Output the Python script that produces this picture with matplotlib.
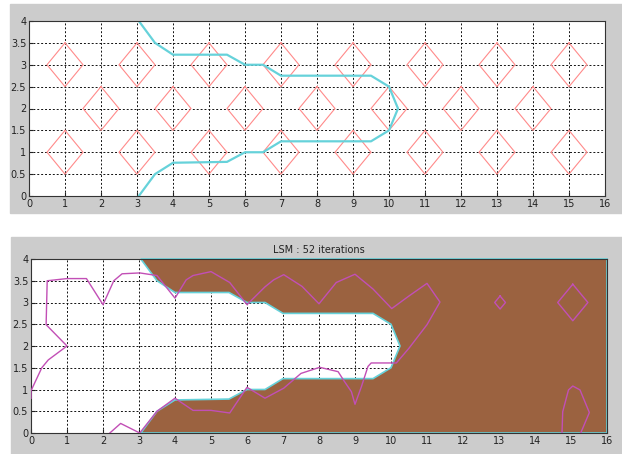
import numpy as np
import matplotlib.pyplot as plt
from matplotlib.patches import Rectangle, Polygon

# centres des obstacles (losanges)
obs_x = [1, 3, 5, 7, 9, 11, 13, 15, 2, 4, 6, 8, 10, 12, 14, 1, 3, 5, 7, 9, 11, 13, 15]
obs_y = [3, 3, 3, 3, 3, 3, 3, 3, 2, 2, 2, 2, 2, 2, 2, 1, 1, 1, 1, 1, 1, 1, 1]
R_OBS = 0.5

# frontiere du canal (courbe cyan)
canal_x = [3.05, 3.5, 4, 5.5, 6, 6.5, 7, 9.5, 10, 10.25, 10, 9.5, 7, 6.5, 6, 5.5, 4, 3.5, 3.05]
canal_y = [4, 3.5, 3.23, 3.23, 3, 3, 2.75, 2.75, 2.5, 2, 1.5, 1.25, 1.25, 1, 1, 0.78, 0.76, 0.5, 0]

# contours level-set (magenta)
ls_x = [0, 0, 0.3, 0.48, 1, 0.42, 0.45, 1, 1.54, 2, 2.3, 2.53, 3.02, 3.5, 4, 4.31, 4.5, 5,
        5.52, 6, 6.5, 6.74, 7.02, 7.53, 8, 8.48, 9, 9.5, 10.02, 10.5, 11, 11.36, 11, 10.5,
        10.15, 9.45, 9.36, 9.18, 9, 8.9, 8.71, 8.53, 8.02, 7.5, 7.02, 6.5, 6, 5.52, 5, 4.5,
        4, 3.5, 3.02, 2.49, 2.19]
ls_y = [0.80, 0.97, 1.5, 1.68, 2, 2.49, 3.5, 3.55, 3.55, 2.95, 3.5, 3.66, 3.68, 3.62, 3.1,
        3.52, 3.62, 3.71, 3.46, 2.95, 3.36, 3.52, 3.64, 3.37, 2.97, 3.46, 3.65, 3.31, 2.86,
        3.15, 3.44, 3.01, 2.49, 1.95, 1.61, 1.61, 1.53, 1.07, 0.66, 0.95, 1.18, 1.41, 1.51,
        1.37, 1.03, 0.80, 1.05, 0.46, 0.52, 0.52, 0.80, 0.5, 0, 0.22, 0]
petit_x = [13.03, 13.18, 13.03, 12.88, 13.03]
petit_y = [3.15, 3.0, 2.85, 3.0, 3.15]
grand_x = [15.05, 15.47, 15.05, 14.63, 15.05]
grand_y = [3.42, 3.0, 2.58, 3.0, 3.42]
bulle_x = [14.75, 14.77, 14.93, 15.05, 15.25, 15.51, 15.27]
bulle_y = [0, 0.49, 0.99, 1.08, 0.99, 0.47, 0]

ROUGE = '#ff8a8a'
CYAN = '#66d2da'
MAGENTA = '#c24fb6'
BRUN = '#9b6240'
GRIS = '#cccccc'

plt.rcParams['font.family'] = ['Liberation Sans Narrow', 'DejaVu Sans']

W, H = 622, 454
fig = plt.figure(figsize=(W / 100, H / 100), dpi=100, facecolor='white')

# fonds gris facon matlab
fig.patches.append(Rectangle((10 / W, 1 - 213 / H), 612 / W, 209 / H,
                             transform=fig.transFigure, color=GRIS, zorder=-10))
fig.patches.append(Rectangle((11 / W, 0), 611 / W, 217 / H,
                             transform=fig.transFigure, color=GRIS, zorder=-10))

ax1 = fig.add_axes([29 / W, 1 - 196 / H, 576 / W, 175 / H])
ax2 = fig.add_axes([31 / W, 1 - 433 / H, 576 / W, 174 / H])


def style_axe(ax):
    ax.set_xlim(0, 16)
    ax.set_ylim(0, 4)
    ax.set_xticks(np.arange(0, 17, 1))
    ax.set_yticks(np.arange(0, 4.01, 0.5))
    ax.set_yticklabels(['0', '0.5', '1', '1.5', '2', '2.5', '3', '3.5', '4'])
    ax.tick_params(direction='in', length=3, labelsize=7, colors='#222222', pad=2)
    ax.grid(True, color='#111111', linestyle=(0, (2, 2)), linewidth=0.7)
    ax.set_axisbelow(True)
    for s in ax.spines.values():
        s.set_color('#333333')
        s.set_linewidth(0.8)


# --- graphe du haut : obstacles + canal
style_axe(ax1)
for cx, cy in zip(obs_x, obs_y):
    ax1.plot([cx, cx + R_OBS, cx, cx - R_OBS, cx], [cy + R_OBS, cy, cy - R_OBS, cy, cy + R_OBS],
             color=ROUGE, linewidth=0.8)
ax1.plot(canal_x, canal_y, color=CYAN, linewidth=1.6)

# --- graphe du bas : resultat LSM
style_axe(ax2)
poly_x = canal_x + [16, 16]
poly_y = canal_y + [0, 4]
ax2.add_patch(Polygon(np.column_stack([poly_x, poly_y]), closed=True, facecolor=BRUN,
                      edgecolor=CYAN, linewidth=1.2, zorder=1, clip_on=False))
ax2.plot(ls_x, ls_y, color=MAGENTA, linewidth=1.0, zorder=3)
ax2.plot(petit_x, petit_y, color=MAGENTA, linewidth=1.0, zorder=3)
ax2.plot(grand_x, grand_y, color=MAGENTA, linewidth=1.0, zorder=3)
ax2.plot(bulle_x, bulle_y, color=MAGENTA, linewidth=1.0, zorder=3)
ax2.set_title('LSM : 52 iterations', fontsize=7, color='#222222', pad=4)

fig.savefig('out.png', dpi=100)
